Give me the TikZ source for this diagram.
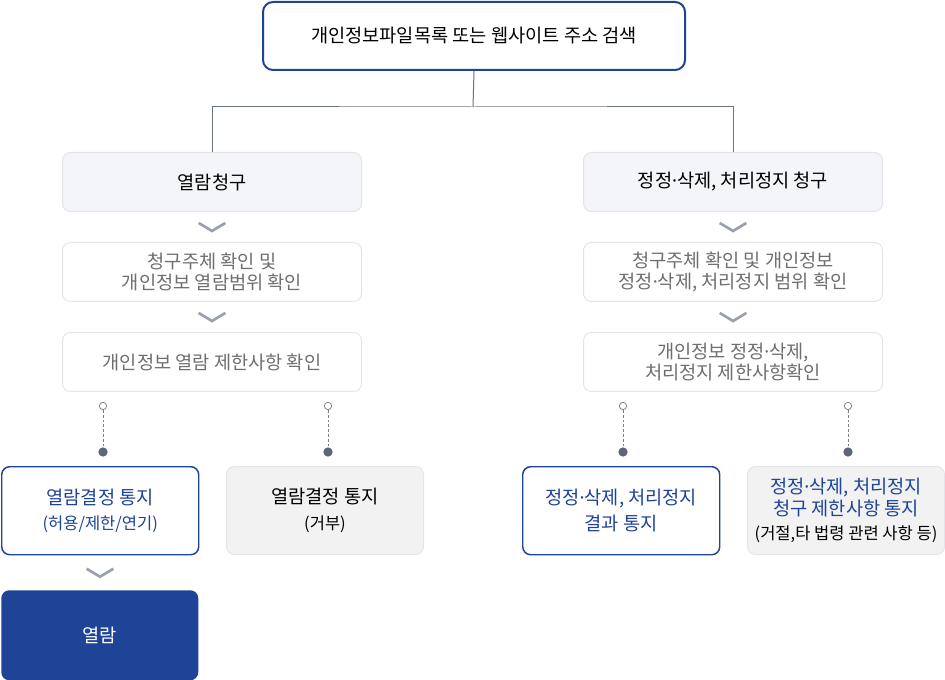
\documentclass[tikz,border=0pt]{standalone}
\usepackage{fontspec}
\usetikzlibrary{calc}
\setmainfont{Noto Sans CJK KR}
\newfontfamily\dotfont{Noto Sans}
\newcommand\md{{\dotfont ·}}
\newcommand\smallsz{\fontsize{12.4}{14}\selectfont}
\definecolor{navy}{HTML}{1F4397}
\definecolor{lightfill}{HTML}{F4F5F9}
\definecolor{lightline}{HTML}{E3E5EA}
\definecolor{grayfill}{HTML}{F2F2F2}
\definecolor{graytxt}{HTML}{6F6F6F}
\definecolor{chev}{HTML}{9AA1AD}
\definecolor{conn}{HTML}{6B7280}
\definecolor{dotc}{HTML}{5F6675}
\begin{document}
\begin{tikzpicture}[x=0.75pt,y=-0.75pt,
  box/.style 2 args={rounded corners=6pt, minimum width=#1*0.75pt, minimum height=#2*0.75pt, inner sep=0pt, align=center, anchor=north west},
  mainfont/.style={font=\fontsize{14}{16.2}\selectfont},
  topbox/.style={draw=navy, line width=1.5pt, fill=white, text=black, rounded corners=7.5pt, mainfont},
  reqbox/.style={draw=lightline, line width=0.75pt, fill=lightfill, text=black, mainfont},
  stepbox/.style={draw=lightline, line width=0.75pt, fill=white, text=graytxt, mainfont},
  okbox/.style={draw=navy, line width=1.1pt, fill=white, text=navy, mainfont},
  nobox/.style={draw=lightline, line width=0.75pt, fill=grayfill, mainfont},
  finalbox/.style={fill=navy, text=white, mainfont},
  chevron/.style={draw=chev, line width=2pt},
  link/.style={draw=conn, line width=0.75pt},
  dots/.style={draw=gray, line width=0.75pt, dash pattern=on 2pt off 1.6pt},
  opendot/.style={circle, draw=gray, fill=white, line width=0.6pt, minimum size=5.5pt, inner sep=0pt},
  fulldot/.style={circle, fill=dotc, minimum size=7pt, inner sep=0pt}
]
\useasboundingbox (0,0) rectangle (945,680);

% top
\node[box={422}{68}, topbox] (top) at (262,1) {개인정보파일목록 또는 웹사이트 주소 검색};

% left column
\node[box={299}{59}, reqbox] (l1) at (62,152) {열람청구};
\node[box={299}{59}, stepbox] (l2) at (62,242) {청구주체 확인 및\\개인정보 열람범위 확인};
\node[box={299}{59}, stepbox] (l3) at (62,332) {개인정보 열람 제한사항 확인};

% right column
\node[box={299}{59}, reqbox] (r1) at (583,152) {정정\md 삭제, 처리정지 청구};
\node[box={299}{59}, stepbox] (r2) at (583,242) {청구주체 확인 및 개인정보\\정정\md 삭제, 처리정지 범위 확인};
\node[box={299}{59}, stepbox] (r3) at (583,332) {개인정보 정정\md 삭제,\\처리정지 제한사항확인};

% bottom row
\node[box={197}{88}, okbox] (la) at (1,466) {열람결정 통지\\[3pt]{\smallsz(허용/제한/연기)}};
\node[box={197}{88}, nobox] (lb) at (226,466) {열람결정 통지\\[3pt]{\smallsz(거부)}};
\node[box={197}{88}, okbox] (ra) at (522,466) {정정\md 삭제, 처리정지\\[3pt]결과 통지};
\node[box={197}{88}, nobox, text=navy] (rb) at (747,466) {정정\md 삭제, 처리정지\\청구 제한사항 통지\\[2pt]{\smallsz\color{black}(거절,타 법령 관련 사항 등)}};
\node[box={197}{90}, finalbox] (view) at (1,590) {열람};

% tree connector
\coordinate (split) at (473,107);
\draw[link] (top.south) -- (split);
\draw[link] (l1.north) |- (split) -| (r1.north);

% chevrons
\foreach \a/\b in {l1/l2, l2/l3, r1/r2, r2/r3, la/view}{
  \path ($(\a.south)!0.5!(\b.north)$) coordinate (m);
  \draw[chevron] ([xshift=-10pt,yshift=3pt]m) -- ([yshift=-3pt]m) -- ([xshift=10pt,yshift=3pt]m);
}

% dotted links
\foreach \n/\x/\t in {a/103/la, b/328/lb, c/623/ra, d/848/rb}{
  \node[opendot] (o\n) at (\x,406) {};
  \node[fulldot] (f\n) at (\x,452) {};
  \draw[dots] (o\n) -- (f\n);
}
\end{tikzpicture}
\end{document}
